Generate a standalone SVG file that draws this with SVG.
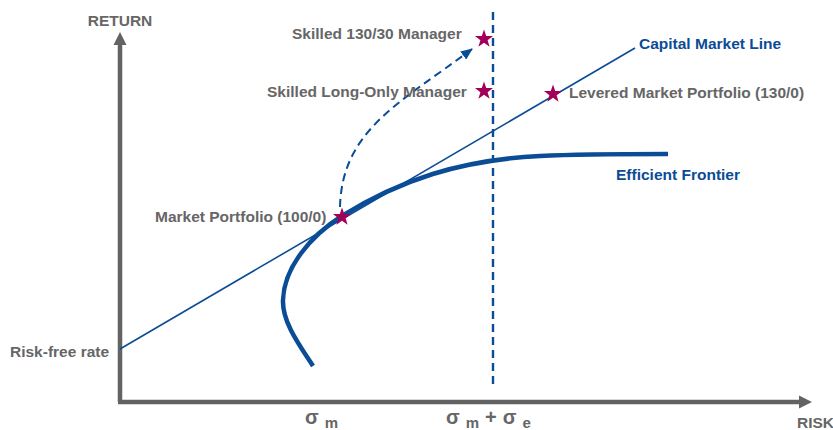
<svg xmlns="http://www.w3.org/2000/svg" width="833" height="430" viewBox="0 0 833 430">
  <style>
    .lbl { font-family: "Liberation Sans", Arial, sans-serif; font-weight: bold; font-size: 15.5px; fill: #666666; }
    .blue { fill: #0b4c96; }
    .sig { font-family: "Liberation Sans", Arial, sans-serif; font-weight: bold; fill: #666666; }
    .axis { stroke: #636363; stroke-width: 4.5; fill: none; }
    .axhead { fill: #636363; }
    .cml { stroke: #0b4c96; stroke-width: 1.6; fill: none; }
    .frontier { stroke: #0b4c96; stroke-width: 4.5; fill: none; stroke-linecap: butt; }
    .dash { stroke: #0b4c96; stroke-width: 2.4; fill: none; stroke-dasharray: 8 5; }
    .star { fill: #a3005a; }
  </style>
  <defs>
    <path id="starShape" d="M0,-10 L2.35,-3.24 L9.51,-3.09 L3.8,1.24 L5.88,8.09 L0,4 L-5.88,8.09 L-3.8,1.24 L-9.51,-3.09 L-2.35,-3.24 Z"/>
    <marker id="arrowBlue" viewBox="0 0 12 10" refX="11" refY="5" markerWidth="12" markerHeight="10" markerUnits="userSpaceOnUse" orient="auto">
      <path d="M0,0 L12,5 L0,10 Z" fill="#0b4c96"/>
    </marker>
  </defs>

  <!-- axes -->
  <g id="axes">
    <line class="axis" x1="120" y1="402" x2="120" y2="43"/>
    <path class="axhead" d="M120,32 L126.5,45 L113.5,45 Z"/>
    <line class="axis" x1="118" y1="402" x2="801" y2="402"/>
    <path class="axhead" d="M812,402 L799,395.5 L799,408.5 Z"/>
    <text class="lbl" x="120" y="26" text-anchor="middle">RETURN</text>
    <text class="lbl" x="797" y="428">RISK</text>
    <text class="lbl" x="10" y="357">Risk-free rate</text>
  </g>

  <!-- connectors: capital market line, frontier, guide lines -->
  <g id="connectors">
    <line class="cml" x1="120" y1="349" x2="635" y2="48"/>
    <path class="frontier" d="M313,366 C300,346 282,322 283,300 C284,268 310,236 342,216 C400,180 460,160 540,156 C580,154 620,154 668,154"/>
    <line class="dash" x1="493" y1="12" x2="493" y2="386"/>
    <path class="dash" style="stroke-width:2" d="M340,207 C342,130 400,103 472,49" marker-end="url(#arrowBlue)"/>
  </g>

  <g id="capital-market-line-label">
    <text class="lbl blue" x="639" y="49">Capital Market Line</text>
  </g>
  <g id="efficient-frontier-label">
    <text class="lbl blue" x="616" y="180">Efficient Frontier</text>
  </g>

  <g id="market-portfolio">
    <use href="#starShape" class="star" transform="translate(342,217) scale(0.95)"/>
    <text class="lbl" x="155" y="222">Market Portfolio (100/0)</text>
  </g>
  <g id="skilled-130-30">
    <use href="#starShape" class="star" transform="translate(484,39) scale(0.95)"/>
    <text class="lbl" x="292" y="39">Skilled 130/30 Manager</text>
  </g>
  <g id="skilled-long-only">
    <use href="#starShape" class="star" transform="translate(484,91) scale(0.95)"/>
    <text class="lbl" x="267" y="97">Skilled Long-Only Manager</text>
  </g>
  <g id="levered-market-portfolio">
    <use href="#starShape" class="star" transform="translate(553,94) scale(0.95)"/>
    <text class="lbl" x="569" y="98">Levered Market Portfolio (130/0)</text>
  </g>

  <!-- risk axis markers -->
  <g id="sigma-m">
    <text class="sig" x="305" y="424" font-size="20">σ<tspan font-size="15" dx="6" dy="4">m</tspan></text>
  </g>
  <g id="sigma-m-plus-e">
    <text class="sig" x="446" y="424" font-size="20">σ<tspan font-size="15" dx="6" dy="4">m</tspan><tspan dx="6" dy="-4">+</tspan><tspan dx="6">σ</tspan><tspan font-size="15" dx="6" dy="4">e</tspan></text>
  </g>
</svg>
